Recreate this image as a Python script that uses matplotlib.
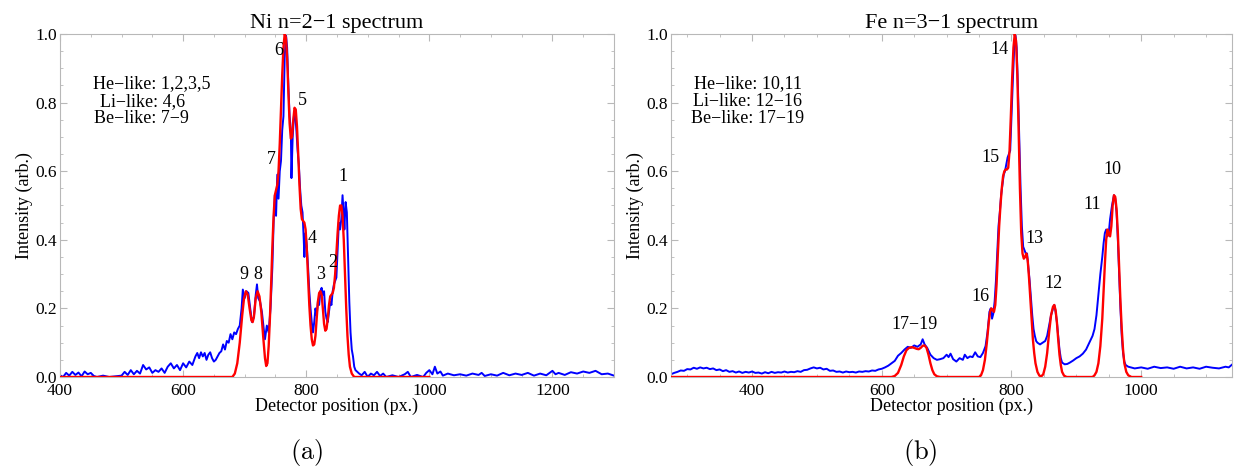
import matplotlib
matplotlib.use("Agg")
import matplotlib.pyplot as plt
from matplotlib.ticker import MultipleLocator

plt.rcParams['font.family'] = ['Liberation Serif', 'DejaVu Serif']
plt.rcParams['mathtext.fontset'] = 'cm'

# ---------------- Ni n=2-1 (panel a) ----------------
ni_blue_x = [400,405,410,415,420,425,430,435,440,445,450,455,460,470,480,490,500,505,510,515,520,525,530,535,540,545,550,555,560,565,570,575,580,585,590,595,600,605,610,615,620,623,626,629,632,635,638,641,644,647,650,653,656,659,662,665,668,671,674,677,680,683,686,689,692,695,697,700,703,706,709,712,715,718,720,722,725,728,731,733,736,739,742,745,747,749,751,753,755,757,759,761,763,765,767,769,771,773,775,776,778,780,782,784,786,788,790,792,794,796,797,799,801,803,805,807,809,811,813,815,817,819,821,823,825,827,829,831,833,835,837,839,841,843,845,847,849,851,853,855,857,859,861,862,864,866,868,870,872,874,876,878,880,883,886,890,895,900,905,910,915,920,925,930,940,950,960,965,970,980,990,995,1000,1005,1009,1013,1018,1022,1030,1040,1050,1060,1070,1080,1085,1090,1100,1110,1120,1130,1140,1150,1160,1170,1180,1190,1200,1205,1210,1220,1230,1240,1250,1260,1270,1280,1290,1300]
ni_blue_y = [0.005,0.0,0.012,0.004,0.015,0.006,0.013,0.002,0.016,0.008,0.012,0.003,0.0,0.004,0.0,0.002,0.004,0.015,0.006,0.02,0.008,0.018,0.01,0.035,0.022,0.028,0.012,0.02,0.015,0.025,0.012,0.03,0.04,0.025,0.035,0.02,0.04,0.028,0.045,0.035,0.06,0.07,0.055,0.072,0.06,0.07,0.05,0.065,0.072,0.055,0.045,0.05,0.06,0.07,0.075,0.095,0.08,0.105,0.1,0.125,0.11,0.13,0.125,0.14,0.15,0.2,0.255,0.23,0.25,0.245,0.2,0.16,0.175,0.24,0.27,0.23,0.22,0.19,0.14,0.11,0.15,0.13,0.2,0.32,0.45,0.53,0.47,0.59,0.52,0.6,0.63,0.72,0.76,0.93,1.0,0.96,0.85,0.76,0.72,0.58,0.7,0.76,0.77,0.72,0.66,0.62,0.55,0.5,0.48,0.4,0.35,0.42,0.38,0.32,0.25,0.2,0.16,0.13,0.16,0.2,0.18,0.22,0.21,0.25,0.26,0.24,0.25,0.19,0.17,0.16,0.19,0.22,0.21,0.25,0.27,0.28,0.29,0.37,0.45,0.43,0.46,0.53,0.47,0.43,0.51,0.48,0.35,0.22,0.13,0.08,0.06,0.03,0.02,0.015,0.01,0.005,0.015,0.0,0.01,0.005,0.015,0.003,0.01,0.0,0.005,0.0,0.008,0.015,0.0,0.006,0.0,0.012,0.02,0.008,0.03,0.01,0.016,0.004,0.01,0.005,0.008,0.004,0.01,0.006,0.012,0.003,0.008,0.004,0.012,0.005,0.01,0.006,0.012,0.004,0.01,0.005,0.018,0.008,0.012,0.006,0.014,0.01,0.016,0.012,0.018,0.008,0.01,0.004]

ni_fit_x = [400,680,684,688,692,696,699,702,705,708,711,713,715,718,721,724,727,730,733,735,737,739,741,743,745,747,749,751,753,755,757,759,761,763,765,767,769,771,773,775,777,779,781,783,785,787,789,791,793,795,797,799,801,803,805,807,809,811,813,815,817,819,821,823,825,827,829,831,833,835,837,839,841,843,845,847,849,851,853,855,857,859,861,863,865,867,869,871,874,878,1000]
ni_fit_y = [0,0,0.01,0.04,0.1,0.18,0.23,0.25,0.24,0.2,0.165,0.16,0.175,0.23,0.25,0.235,0.19,0.12,0.055,0.032,0.04,0.09,0.17,0.27,0.38,0.47,0.53,0.545,0.56,0.6,0.68,0.78,0.88,0.96,1.0,0.99,0.93,0.83,0.74,0.695,0.7,0.75,0.785,0.78,0.73,0.65,0.56,0.49,0.46,0.455,0.45,0.43,0.37,0.29,0.21,0.15,0.11,0.092,0.095,0.12,0.17,0.22,0.245,0.25,0.24,0.2,0.155,0.135,0.14,0.17,0.21,0.235,0.24,0.245,0.26,0.3,0.36,0.42,0.47,0.5,0.5,0.47,0.4,0.3,0.2,0.12,0.065,0.03,0.01,0.0,0.0]

ni_labels = ["6","5","7","1","4","2","3","9","8"]
ni_label_x = [756,793,744,859,810,843,824,698,721]
ni_label_y = [0.953,0.806,0.633,0.584,0.403,0.335,0.30,0.30,0.30]
ni_legend = ["He\u2212like: 1,2,3,5", "Li\u2212like: 4,6", "Be\u2212like: 7\u22129"]
ni_legend_x = [453, 465, 455]
ni_legend_y = [0.854, 0.804, 0.755]

# ---------------- Fe n=3-1 (panel b) ----------------
fe_blue_x = [275,280,285,290,295,300,305,310,315,320,325,330,335,340,345,350,355,360,365,370,375,380,385,390,395,400,405,410,415,420,425,430,435,440,445,450,455,460,465,470,475,480,485,490,495,500,505,510,515,520,525,530,535,540,545,550,555,560,565,570,575,580,585,590,595,600,605,610,615,620,625,630,635,640,645,650,655,660,663,666,670,675,680,685,690,695,700,703,706,710,715,720,725,728,732,736,740,744,748,752,756,760,763,766,768,770,772,774,776,778,780,782,784,786,788,790,792,794,796,798,800,802,804,806,808,810,812,814,816,818,820,822,824,826,828,830,832,834,836,838,840,844,848,852,855,858,861,864,866,868,870,872,874,876,878,882,886,890,895,900,905,910,915,920,925,928,931,934,937,940,942,944,946,948,950,952,955,958,960,962,964,966,968,970,972,974,976,980,990,1000,1010,1020,1030,1040,1050,1060,1070,1080,1090,1100,1110,1120,1130,1135,1140]
fe_blue_y = [0.008,0.012,0.015,0.019,0.018,0.023,0.022,0.027,0.024,0.028,0.025,0.027,0.023,0.025,0.02,0.022,0.017,0.02,0.015,0.017,0.013,0.016,0.012,0.015,0.013,0.016,0.012,0.013,0.01,0.014,0.011,0.015,0.012,0.014,0.013,0.016,0.013,0.015,0.014,0.017,0.015,0.02,0.021,0.025,0.028,0.025,0.027,0.022,0.024,0.018,0.019,0.015,0.016,0.013,0.016,0.014,0.015,0.013,0.016,0.015,0.017,0.016,0.019,0.018,0.022,0.024,0.028,0.033,0.04,0.047,0.062,0.07,0.08,0.088,0.085,0.092,0.088,0.095,0.11,0.095,0.085,0.065,0.055,0.05,0.052,0.055,0.065,0.058,0.068,0.052,0.045,0.055,0.05,0.065,0.055,0.06,0.058,0.072,0.06,0.058,0.07,0.09,0.13,0.19,0.2,0.17,0.185,0.22,0.28,0.36,0.44,0.48,0.53,0.56,0.59,0.6,0.62,0.64,0.65,0.66,0.76,0.86,0.95,1.0,0.96,0.84,0.7,0.55,0.44,0.38,0.37,0.36,0.36,0.32,0.28,0.23,0.18,0.14,0.12,0.105,0.1,0.095,0.1,0.105,0.12,0.15,0.18,0.2,0.21,0.19,0.16,0.12,0.08,0.055,0.042,0.037,0.038,0.042,0.048,0.055,0.06,0.068,0.08,0.1,0.12,0.14,0.18,0.24,0.3,0.35,0.39,0.42,0.43,0.41,0.42,0.46,0.5,0.53,0.52,0.48,0.4,0.3,0.2,0.12,0.07,0.045,0.035,0.03,0.025,0.028,0.024,0.03,0.026,0.028,0.024,0.03,0.025,0.028,0.024,0.03,0.027,0.025,0.03,0.028,0.036]

fe_fit_x = [275,615,620,625,630,634,638,642,646,650,654,657,660,663,666,669,672,675,678,681,685,690,750,753,756,759,762,765,767,769,771,773,775,777,779,781,783,785,787,789,791,793,795,797,799,801,803,805,807,809,811,813,815,817,819,821,823,825,827,829,831,833,835,837,840,843,846,849,852,855,858,861,864,866,868,870,872,874,876,878,881,885,925,928,931,934,937,940,942,944,946,948,950,952,954,956,958,960,962,964,966,968,970,972,974,977,980,985,1000]
fe_fit_y = [0,0,0.003,0.012,0.035,0.06,0.078,0.085,0.087,0.085,0.082,0.081,0.085,0.091,0.092,0.085,0.065,0.04,0.02,0.008,0.002,0,0,0.005,0.02,0.05,0.1,0.16,0.19,0.2,0.195,0.19,0.21,0.27,0.36,0.44,0.5,0.55,0.585,0.6,0.605,0.605,0.61,0.66,0.76,0.87,0.96,1.0,0.98,0.88,0.72,0.55,0.42,0.36,0.345,0.35,0.36,0.34,0.29,0.23,0.17,0.11,0.07,0.04,0.015,0.004,0.002,0.008,0.03,0.07,0.13,0.18,0.205,0.21,0.195,0.16,0.11,0.065,0.035,0.015,0.004,0,0,0.005,0.015,0.04,0.09,0.17,0.25,0.33,0.4,0.43,0.415,0.41,0.44,0.5,0.53,0.525,0.49,0.42,0.32,0.22,0.14,0.08,0.04,0.015,0.005,0,0]

fe_labels = ["14","15","13","10","11","12","16","17\u221219"]
fe_label_x = [781,767,836,956,925,865,752,651]
fe_label_y = [0.954,0.64,0.404,0.604,0.504,0.273,0.236,0.154]
fe_legend = ["He\u2212like: 10,11", "Li\u2212like: 12\u221216", "Be\u2212like: 17\u221219"]
fe_legend_x = [311, 309, 306]
fe_legend_y = [0.854, 0.804, 0.755]

W, H = 1238, 469
fig = plt.figure(figsize=(W/100, H/100), dpi=100)

def px_axes(x0, x1, ytop, ybot):
    return fig.add_axes([x0/W, (H-ybot)/H, (x1-x0)/W, (ybot-ytop)/H])

ax1 = px_axes(60, 614, 34, 377)
ax2 = px_axes(671, 1232, 34, 377)

frame_col = '#b8b8b8'

def style(ax, xlim, title):
    ax.set_xlim(*xlim)
    ax.set_ylim(0, 1.0)
    ax.xaxis.set_major_locator(MultipleLocator(200))
    ax.xaxis.set_minor_locator(MultipleLocator(50))
    ax.yaxis.set_major_locator(MultipleLocator(0.2))
    ax.yaxis.set_minor_locator(MultipleLocator(0.05))
    ax.yaxis.set_major_formatter(plt.FuncFormatter(lambda v, p: f"{v:.1f}"))
    for s in ax.spines.values():
        s.set_color(frame_col)
        s.set_linewidth(0.8)
    ax.tick_params(which='both', direction='in', top=True, right=True,
                   color=frame_col, labelsize=12.5)
    ax.tick_params(axis='x', pad=4.5)
    ax.tick_params(axis='y', pad=2)
    ax.tick_params(which='major', length=5, width=0.8)
    ax.tick_params(which='minor', length=2.5, width=0.6)
    ax.set_title(title, fontsize=16, pad=4)
    ax.set_xlabel("Detector position (px.)", fontsize=13, labelpad=-1)
    ax.set_ylabel("Intensity (arb.)", fontsize=13, labelpad=2)

ax1.plot(ni_blue_x, ni_blue_y, color='#0000ff', lw=1.4, zorder=2)
ax1.plot(ni_fit_x, ni_fit_y, color='#ff0000', lw=1.7, zorder=3)
style(ax1, (400, 1300), "Ni n=2\u22121 spectrum")
for t, x, y in zip(ni_labels, ni_label_x, ni_label_y):
    ax1.text(x, y, t, fontsize=13, ha='center', va='center')
for t, x, y in zip(ni_legend, ni_legend_x, ni_legend_y):
    ax1.text(x, y, t, fontsize=13, ha='left', va='center')

ax2.plot(fe_blue_x, fe_blue_y, color='#0000ff', lw=1.4, zorder=2)
ax2.plot(fe_fit_x, fe_fit_y, color='#ff0000', lw=1.7, zorder=3)
style(ax2, (275, 1140), "Fe n=3\u22121 spectrum")
for t, x, y in zip(fe_labels, fe_label_x, fe_label_y):
    ax2.text(x, y, t, fontsize=13, ha='center', va='center')
for t, x, y in zip(fe_legend, fe_legend_x, fe_legend_y):
    ax2.text(x, y, t, fontsize=13, ha='left', va='center')

fig.text(307/W, 1 - 452/H, r"$\mathrm{(a)}$", fontsize=19, ha='center', va='center')
fig.text(920/W, 1 - 452/H, r"$\mathrm{(b)}$", fontsize=19, ha='center', va='center')

fig.savefig("out.png", dpi=100)
